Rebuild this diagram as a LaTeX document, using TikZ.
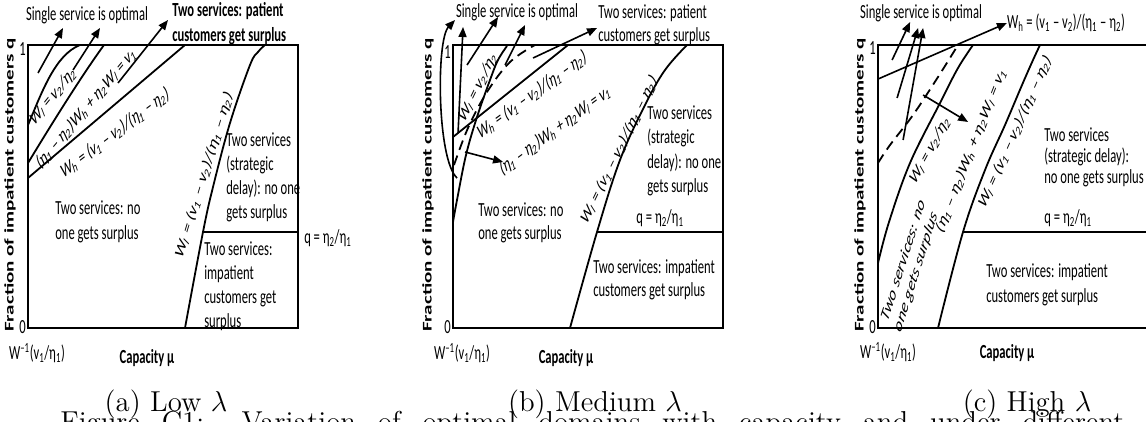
\documentclass[tikz,border=0pt]{standalone}
\usepackage{fontspec}
\newfontfamily\cf{Carlito}
\usetikzlibrary{arrows.meta}
\newcommand\sbs[1]{\textsubscript{#1}}
\newcommand\WlV{W\sbs{\textit{l}} = v\sbs{2}/η\sbs{2}}
\newcommand\WhEq{W\sbs{h} = (v\sbs{1} – v\sbs{2})/(η\sbs{1} – η\sbs{2})}
\newcommand\CombEq{(η\sbs{1} – η\sbs{2})W\sbs{h} + η\sbs{2}W\sbs{\textit{l}} = v\sbs{1}}
\newcommand\WlEq{W\sbs{\textit{l}} = (v\sbs{1} – v\sbs{2})/(η\sbs{1} – η\sbs{2})}
\newcommand\qEq{q = η\sbs{2}/η\sbs{1}}
\newcommand\Winv{W\textsuperscript{–1}(v\sbs{1}/η\sbs{1})}
\tikzset{
  lab/.style={font=\cf\fontsize{10}{12}\selectfont, inner sep=0pt},
  labb/.style={font=\cf\bfseries\fontsize{10}{12.5}\selectfont, inner sep=0pt},
  ylab/.style={font=\cf\bfseries\fontsize{10.5}{12}\selectfont, inner sep=0pt, rotate=90},
  blk/.style={font=\cf\fontsize{10}{#1}\selectfont, inner sep=0pt, align=left, anchor=north west},
  blk/.default=12,
  arot/.style={rotate={atan(0.63*tan(#1))}},
  ln/.style={line width=0.9pt},
  bx/.style={line width=1.1pt},
  arr/.style={line width=0.8pt, -{Triangle[length=5pt,width=4pt]}},
  subcap/.style={font=\fontsize{14.4}{17}\selectfont, inner sep=0pt, anchor=base}
}
\begin{document}
\begin{tikzpicture}[x=0.5pt,y=-0.5pt]
\useasboundingbox (0,0) rectangle (1146,422);
\clip (0,0) rectangle (1146,422);
\begin{scope}[xscale=0.63, x=0.793651pt, transform shape]
% ================= Panel (a) =================
\draw[bx] (28,45) rectangle (298,328);
\draw[ln] (28,125) .. controls (42,92) and (55,55) .. (80,45);
\draw[ln] (28,163) .. controls (48,130) and (80,78) .. (104,45);
\draw[ln] (28,178) -- (185,45);
\draw[ln] plot[smooth, tension=0.6] coordinates {(185,328) (203,232) (213,187) (230,123) (250,65) (258,52) (265,45)};
\coordinate (qa1) at (203,232);
\coordinate (qa2) at (298,232);
\draw[ln] (qa1) -- (qa2);
\node[lab] (sa) at (87,15) {Single service is optimal};
\node[blk=12.5, font=\cf\bfseries\fontsize{10}{12.5}\selectfont] (pa) at (172,2) {Two services: patient\\customers get surplus};
\node[lab, arot=51] (la1) at (53,96) {\WlV};
\node[lab, arot=50] (la2) at (86,108) {\CombEq};
\node[lab, arot=37] (la3) at (115,133) {\WhEq};
\node[lab, arot=73] (la4) at (204,175) {\WlEq};
\node[blk] (ta1) at (226,132) {Two services\\(strategic\\delay): no one\\gets surplus};
\node[blk=12.5] (ta2) at (55,200) {Two services: no\\one gets surplus};
\node[blk] (ta3) at (204,241) {Two services:\\impatient\\customers get\\surplus};
\node[lab, anchor=west] (qa) at (304,238) {\qEq};
\node[lab, anchor=east] (oa) at (26,49) {1};
\node[lab, anchor=east] (za) at (26,327) {0};
\node[ylab] (ya) at (10,185) {Fraction of impatient customers q};
\node[lab] (wa) at (37,353) {\Winv};
\node[labb] (ca) at (147,358) {Capacity μ};
\coordinate (a1s) at (38,73);  \coordinate (a1e) at (63,28);
\coordinate (a2s) at (73,70);  \coordinate (a2e) at (100,28);
\coordinate (a3s) at (118,83); \coordinate (a3e) at (168,20);
\draw[arr] (a1s) -- (a1e);
\draw[arr] (a2s) -- (a2e);
\draw[arr] (a3s) -- (a3e);
% ================= Panel (b) =================
\draw[bx] (453,45) rectangle (723,328);
\draw[ln] (453,137) -- (568,45);
\draw[ln] plot[smooth, tension=0.6] coordinates {(453,222) (457,200) (466,155) (477,117) (490,80) (498,60) (507,46)};
\draw[ln, dashed, dash pattern=on 5pt off 3pt] plot[smooth, tension=0.6] coordinates {(454,165) (468,128) (487,92) (510,62) (535,45)};
\draw[ln] plot[smooth, tension=0.6] coordinates {(570,328) (597,232) (620,160) (645,105) (665,70) (687,45)};
\coordinate (qb1) at (597,232);
\coordinate (qb2) at (723,232);
\draw[ln] (qb1) -- (qb2);
\node[lab] (sb) at (517,12) {Single service is optimal};
\node[blk=11.5] (pb) at (598,4) {Two services: patient\\customers get surplus};
\node[lab, arot=64] (lb1) at (478,87) {\WlV};
\node[lab, arot=36] (lb2) at (532,95) {\WhEq};
\node[lab, arot=36.5] (lb3) at (555,130) {\CombEq};
\node[lab, arot=64] (lb4) at (619,150) {\WlEq};
\node[blk=12.3] (tb1) at (647,105) {Two services\\(strategic\\delay): no one\\gets surplus};
\node[lab] (qb) at (660,218) {\qEq};
\node[blk=11.5] (tb2) at (478,202) {Two services: no\\one gets surplus};
\node[blk=11.5] (tb3) at (593,259) {Two services: impatient\\customers get surplus};
\node[lab, anchor=east] (ob) at (451,52) {1};
\node[lab, anchor=east] (zb) at (451,327) {0};
\node[ylab] (yb) at (428,185) {Fraction of impatient customers q};
\node[lab] (wb) at (462,353) {\Winv};
\node[labb] (cb) at (566,358) {Capacity μ};
\coordinate (b1s) at (457,178); \coordinate (b1e) at (455,20);
\coordinate (b2s) at (458,133); \coordinate (b2e) at (463,27);
\coordinate (b3s) at (467,65);  \coordinate (b3e) at (498,17);
\coordinate (b4s) at (505,65);  \coordinate (b4e) at (525,25);
\coordinate (b5s) at (533,58);  \coordinate (b5e) at (597,28);
\coordinate (b6s) at (465,152); \coordinate (b6e) at (503,162);
\draw[arr] (b1s) .. controls (437,160) and (436,40) .. (b1e);
\draw[arr] (b2s) -- (b2e);
\draw[arr] (b3s) -- (b3e);
\draw[arr] (b4s) -- (b4e);
\draw[arr] (b5s) -- (b5e);
\draw[arr] (b6s) -- (b6e);
% ================= Panel (c) =================
\draw[bx] (878,45) rectangle (1148,328);
\draw[ln, dashed, dash pattern=on 5pt off 3pt] plot[smooth, tension=0.6] coordinates {(878,163) (890,145) (913,115) (938,77) (958,45)};
\draw[ln] plot[smooth, tension=0.6] coordinates {(878,263) (889,222) (910,163) (940,103) (958,68) (973,45)};
\draw[ln] plot[smooth, tension=0.6] coordinates {(938,328) (963,232) (985,170) (1005,125) (1022,85) (1033,60) (1040,45)};
\coordinate (qc1) at (963,232);
\coordinate (qc2) at (1148,232);
\draw[ln] (qc1) -- (qc2);
\node[lab] (sc) at (921,13) {Single service is optimal};
\node[lab] (whc) at (1066,23) {\WhEq};
\coordinate (whs) at (878,79);
\draw[arr] (whs) -- (whc.west);
\node[lab, arot=61.6] (lc1) at (930,150) {\WlV};
\node[lab, arot=68.6] (lc2) at (971,150) {\CombEq};
\node[lab, arot=66] (lc3) at (1015,132) {\WlEq};
\node[blk=11.5, font=\cf\itshape\fontsize{10}{11.5}\selectfont, arot=72.5, anchor=center] (tc0) at (910,266) {Two services: no\\one gets surplus};
\node[blk=10.5] (tc1) at (1044,127) {Two services\\(strategic delay):\\no one gets surplus};
\node[lab] (qc) at (1068,218) {\qEq};
\node[blk=12.5] (tc2) at (986,263) {Two services: impatient\\customers get surplus};
\node[lab, anchor=east] (oc) at (876,48) {1};
\node[lab, anchor=east] (zc) at (876,327) {0};
\node[ylab] (yc) at (860,185) {Fraction of impatient customers q};
\node[lab] (wc) at (888,352) {\Winv};
\node[labb] (cc) at (1007,353) {Capacity μ};
\coordinate (c1s) at (892,60);  \coordinate (c1e) at (910,22);
\coordinate (c2s) at (897,98);  \coordinate (c2e) at (918,28);
\coordinate (c3s) at (903,140); \coordinate (c3e) at (923,28);
\coordinate (c4s) at (923,95);  \coordinate (c4e) at (968,122);
\draw[arr] (c1s) -- (c1e);
\draw[arr] (c2s) -- (c2e);
\draw[arr] (c3s) -- (c3e);
\draw[arr] (c4s) -- (c4e);
\end{scope}
% ================= Captions =================
\node[subcap] (capa) at (166,411) {(a) Low $\lambda$};
\node[subcap] (capb) at (595,411) {(b) Medium $\lambda$};
\node[subcap] (capc) at (1027,411) {(c) High $\lambda$};
\node[subcap, anchor=base west] (fig) at (60,431) {\makebox[532pt][s]{Figure C1: Variation of optimal domains with capacity and under different}};
\end{tikzpicture}
\end{document}
